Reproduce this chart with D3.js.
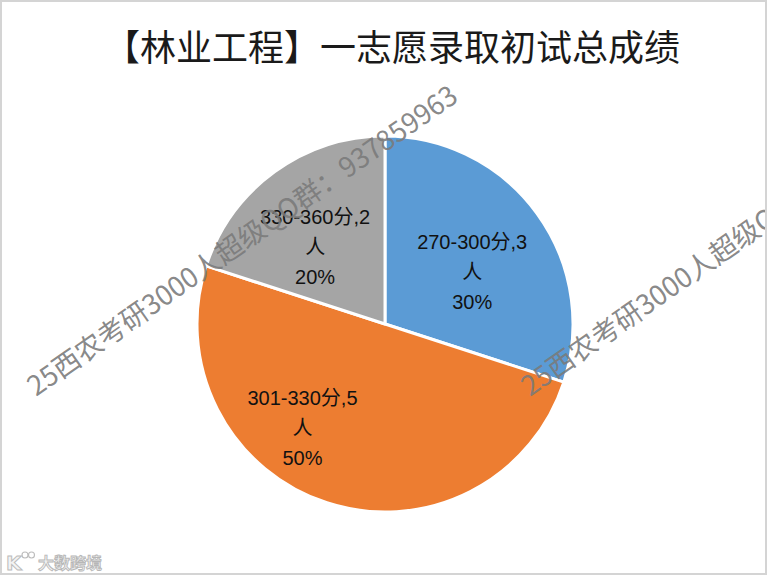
<!DOCTYPE html>
<html><head><meta charset="utf-8">
<script src="https://cdn.jsdelivr.net/npm/d3@7/dist/d3.min.js"></script>
<style>html,body{margin:0;padding:0;background:#fff;}svg{display:block;}</style>
</head><body>
<script>
const categories = ["270-300分", "301-330分", "330-360分"];
const counts = [3, 5, 2];
const percentLabels = ["30%", "50%", "20%"];
const colors = ["#5B9BD5", "#ED7D31", "#A5A5A5"];
const titleText = "【林业工程】一志愿录取初试总成绩";
const watermarkText = "25西农考研3000人超级QQ群：937859963";

const W = 769, H = 578;
const layout = {
  cx: 385, cy: 324, r: 188, labelK: 0.56,
  nudge: [[2, 10], [-50, 4], [-8, 8]]
};

const svg = d3.select("body").append("svg").attr("width", W).attr("height", H);
svg.append("defs").append("clipPath").attr("id", "frame")
  .append("rect").attr("x", 2).attr("y", 2).attr("width", 763).attr("height", 571);

svg.append("rect").attr("x", 1).attr("y", 1).attr("width", 765).attr("height", 573)
  .attr("fill", "#fff").attr("stroke", "#d4d4d4").attr("stroke-width", 2);

const g = svg.append("g").attr("clip-path", "url(#frame)");

g.append("text").attr("x", 392).attr("y", 45)
  .attr("text-anchor", "middle").attr("dominant-baseline", "central")
  .attr("font-family", "'Noto Sans CJK SC', sans-serif").attr("font-size", 36)
  .attr("fill", "#1a1a1a").text(titleText);

const pie = d3.pie().sort(null).value(d => d.v);
const data = categories.map((c, i) => ({ c, v: counts[i], p: percentLabels[i], col: colors[i] }));
const arcs = pie(data);
const arc = d3.arc().innerRadius(0).outerRadius(layout.r);
const labelArc = d3.arc().innerRadius(layout.r * layout.labelK).outerRadius(layout.r * layout.labelK);

const pg = g.append("g").attr("transform", `translate(${layout.cx},${layout.cy})`);
pg.selectAll("path").data(arcs).join("path")
  .attr("d", arc).attr("fill", d => d.data.col)
  .attr("stroke", "#fff").attr("stroke-width", 3).attr("stroke-linejoin", "round");

arcs.forEach((d, i) => {
  const [x, y] = labelArc.centroid(d);
  const lx = x + layout.nudge[i][0], ly = y + layout.nudge[i][1];
  const t = pg.append("text").attr("text-anchor", "middle")
    .attr("font-family", "'Liberation Sans', 'Noto Sans CJK SC', sans-serif")
    .attr("font-size", 20).attr("fill", "#111");
  const lines = [d.data.c + "," + d.data.v, "人", d.data.p];
  lines.forEach((s, k) => {
    t.append("tspan").attr("x", lx).attr("y", ly + (k - 1) * 30)
      .attr("dominant-baseline", "central").text(s);
  });
});

// watermarks
[[36, 397], [530, 397]].forEach(([x, y]) => {
  g.append("text").attr("transform", `translate(${x},${y}) rotate(-35)`)
    .attr("font-family", "'Noto Sans CJK SC', sans-serif").attr("font-size", 27.5)
    .attr("fill", "#7a7a7a").attr("fill-opacity", 0.9).text(watermarkText);
});

// logo
const logo = g.append("g").attr("opacity", 0.9);
logo.append("text").attr("x", 6).attr("y", 570)
  .attr("font-family", "'DejaVu Sans', sans-serif").attr("font-size", 20).attr("font-weight", "bold")
  .attr("fill", "#f2f2f2").attr("stroke", "#b5b5b5").attr("stroke-width", 1).text("K");
[[25, 555], [31.5, 555]].forEach(([x, y]) => {
  logo.append("circle").attr("cx", x).attr("cy", y).attr("r", 3)
    .attr("fill", "none").attr("stroke", "#b5b5b5").attr("stroke-width", 1.1);
});
logo.append("text").attr("x", 38).attr("y", 569)
  .attr("font-family", "'Noto Sans CJK SC', sans-serif").attr("font-size", 16).attr("font-weight", "bold")
  .attr("fill", "#f2f2f2").attr("stroke", "#b0b0b0").attr("stroke-width", 0.9).text("大数跨境");
</script>
</body></html>
